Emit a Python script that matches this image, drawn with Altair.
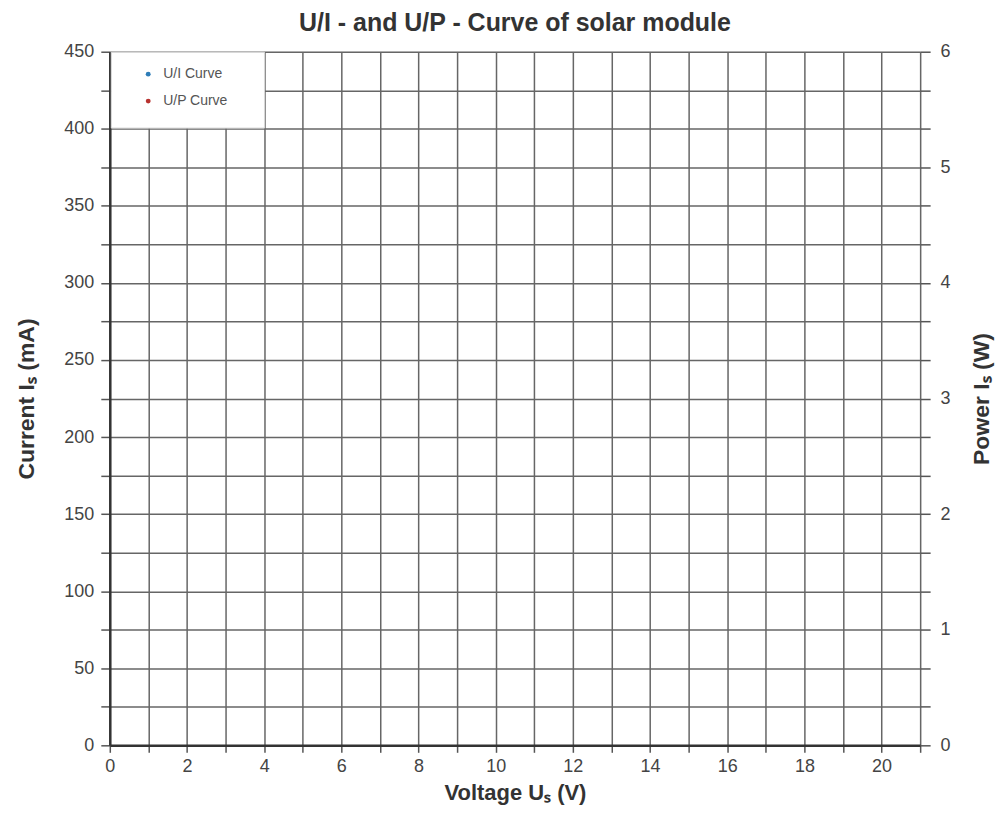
import altair as alt

# ---- data (the reference chart is an empty measurement grid) ----
series = ["U/I Curve", "U/P Curve"]
series_colors = ["#2e7db8", "#b8322f"]

ui_voltage = []   # V
ui_current = []   # mA
up_voltage = []   # V
up_power = []     # W

x_ticks = list(range(0, 22))
x_domain = [0, 21]
left_ticks = list(range(0, 451, 25))
left_domain = [0, 450]
right_ticks = [i / 3 for i in range(0, 19)]
right_domain = [0, 6]

ui_records = [{"series": series[0], "voltage": v, "current": c} for v, c in zip(ui_voltage, ui_current)]
up_records = [{"series": series[1], "voltage": v, "power": p} for v, p in zip(up_voltage, up_power)]

FONT = "Liberation Sans"
W, H = 812, 695
LABEL_SIZE = 18
AXIS_TITLE_SIZE = 23

color_enc = alt.Color(
    "series:N",
    scale=alt.Scale(domain=series, range=series_colors),
    legend=alt.Legend(
        title=None,
        orient="none",
        legendX=31.5,
        legendY=15.5,
        padding=0,
        symbolType="circle",
        symbolSize=24,
        symbolStrokeWidth=0,
        labelFont=FONT,
        labelFontSize=14,
        labelColor="#555555",
        labelOffset=8,
        rowPadding=13,
    ),
)

x_enc = alt.X(
    "voltage:Q",
    scale=alt.Scale(domain=x_domain, nice=False, zero=False),
    axis=alt.Axis(
        values=x_ticks,
        labelExpr="datum.value % 2 == 0 ? datum.label : ''",
        grid=True,
        gridColor="#666666",
        gridWidth=1.5,
        domainColor="#333333",
        domainWidth=2.5,
        tickColor="#555555",
        tickWidth=1.5,
        tickSize=7,
        labelFont=FONT,
        labelFontSize=LABEL_SIZE,
        labelColor="#444444",
        labelPadding=5,
        labelFlush=False,
        title="Voltage Uₛ (V)",
        titleFont=FONT,
        titleFontSize=22,
        titleFontWeight="bold",
        titleColor="#333333",
        titleX=W / 2,
        titleY=47,
        titleBaseline="middle",
        titleAlign="center",
    ),
)

ui_layer = alt.Chart(alt.Data(values=ui_records)).mark_circle(size=30, opacity=1).encode(
    x=x_enc,
    y=alt.Y(
        "current:Q",
        scale=alt.Scale(domain=left_domain, nice=False),
        axis=alt.Axis(
            orient="left",
            values=left_ticks,
            labelExpr="datum.value % 50 == 0 ? datum.label : ''",
            grid=True,
            gridColor="#666666",
            gridWidth=1.5,
            domainColor="#333333",
            domainWidth=2.5,
            tickColor="#555555",
            tickWidth=1.5,
            tickSize=9,
            labelFont=FONT,
            labelFontSize=LABEL_SIZE,
            labelColor="#444444",
            labelPadding=7,
            labelFlush=False,
            title="Current Iₛ (mA)",
            titleFont=FONT,
            titleFontSize=AXIS_TITLE_SIZE,
            titleFontWeight="bold",
            titleColor="#333333",
            titleAngle=-90,
            titleX=-83,
            titleY=H / 2,
            titleBaseline="middle",
            titleAlign="center",
        ),
    ),
    color=color_enc,
)

up_layer = alt.Chart(alt.Data(values=up_records)).mark_circle(size=30, opacity=1).encode(
    x=x_enc,
    y=alt.Y(
        "power:Q",
        scale=alt.Scale(domain=right_domain, nice=False),
        axis=alt.Axis(
            orient="right",
            values=right_ticks,
            labelExpr="abs(datum.value - round(datum.value)) < 0.001 ? format(datum.value, 'd') : ''",
            grid=False,
            domain=False,
            tickColor="#555555",
            tickWidth=1.5,
            tickSize=10,
            labelFont=FONT,
            labelFontSize=LABEL_SIZE,
            labelColor="#444444",
            labelPadding=10,
            labelFlush=False,
            title="Power Iₛ (W)",
            titleFont=FONT,
            titleFontSize=AXIS_TITLE_SIZE,
            titleFontWeight="bold",
            titleColor="#333333",
            titleAngle=-90,
            titleX=61,
            titleY=H / 2,
            titleBaseline="middle",
            titleAlign="center",
        ),
    ),
    color=color_enc,
)

legend_box = alt.Chart(alt.Data(values=[{"box": 1}])).mark_rect(
    fill="white", stroke="#d8d8d8", strokeWidth=1
).encode(
    x=alt.value(1.5), x2=alt.value(155), y=alt.value(0.5), y2=alt.value(76.5)
)

chart = (
    alt.layer(legend_box, ui_layer, up_layer)
    .resolve_scale(y="independent")
    .properties(
        width=W,
        height=H,
        autosize=alt.AutoSizeParams(type="none"),
        padding={"left": 102, "top": 43, "right": 75, "bottom": 62},
        title=alt.Title(
            "U/I - and U/P - Curve of solar module",
            font=FONT,
            fontSize=25,
            fontWeight="bold",
            color="#333333",
            anchor="middle",
            offset=7,
        ),
    )
    .configure_view(stroke=None)
    .configure(background="white")
)

chart.save("out.html", embed_options={"renderer": "svg", "actions": False})
